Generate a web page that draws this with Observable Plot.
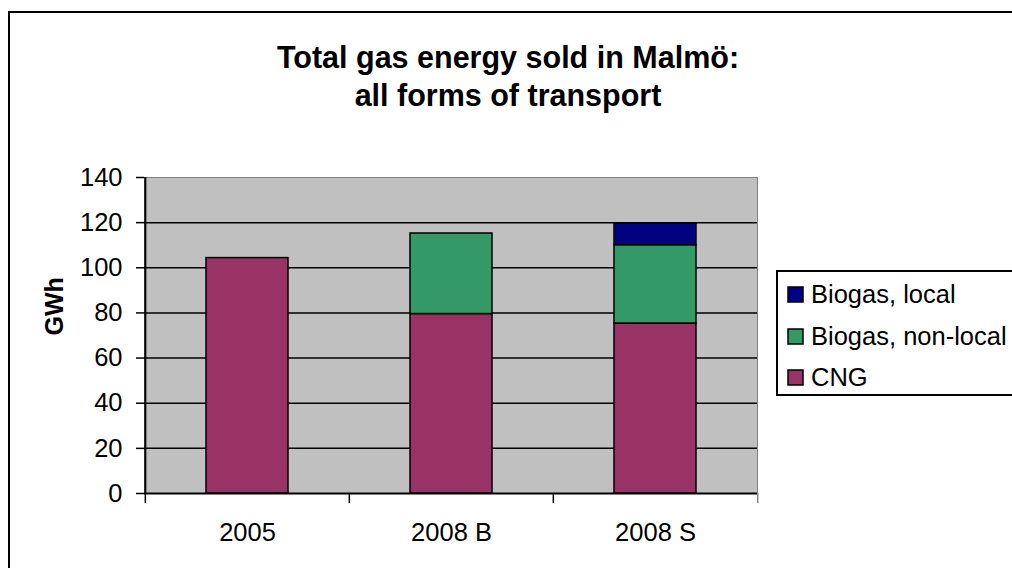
<!DOCTYPE html>
<html>
<head>
<meta charset="utf-8">
<script src="https://cdn.jsdelivr.net/npm/d3@7"></script>
<script src="https://cdn.jsdelivr.net/npm/@observablehq/plot@0.6"></script>
<style>
  html, body { margin: 0; padding: 0; background: #fff; width: 1012px; height: 568px; overflow: hidden; position: relative; }
  body { font-family: "Liberation Sans", Arial, sans-serif; color: #000; }
  #frame { position: absolute; left: 8px; top: 11px; width: 1100px; height: 700px; border: 2px solid #000; box-sizing: border-box; }
  #title { position: absolute; left: 0; top: 38px; width: 1016px; text-align: center; font-size: 30.5px; font-weight: bold; line-height: 38px; }
  #chart { position: absolute; left: 0; top: 150px; }
  #legend { position: absolute; left: 776px; top: 270px; width: 260px; height: 126px; border: 2px solid #000; box-sizing: border-box; padding: 2px 0 0 10px; background: #fff; }
  #legend .lg-swatch { height: 41.5px; padding-bottom: 0; display: flex; align-items: center; }
  #legend .lg-swatch svg { margin-right: 8px; overflow: visible; }
  #legend .lg-swatch svg rect { stroke: #000; stroke-width: 1.5px; }
  #legend .lg-swatches { margin: 0; }
</style>
</head>
<body>
<div id="frame"></div>
<div id="title">Total gas energy sold in Malmö:<br>all forms of transport</div>
<div id="chart"></div>
<div id="legend"></div>
<script>
const categories = ["2005", "2008 B", "2008 S"];
const cng = [104.3, 79.5, 75.3];
const biogasNonLocal = [0, 35.7, 34.7];
const biogasLocal = [0, 0, 9.6];
const seriesNames = ["Biogas, local", "Biogas, non-local", "CNG"];
const seriesColors = ["#000080", "#339966", "#993366"];
const yTicks = [0, 20, 40, 60, 80, 100, 120, 140];
const gridValues = [20, 40, 60, 80, 100, 120];
const yLabel = "GWh";

// stacking order: CNG at bottom, then non-local, then local
const rows = [];
categories.forEach((c, i) => {
  [["CNG", cng[i]], ["Biogas, non-local", biogasNonLocal[i]], ["Biogas, local", biogasLocal[i]]]
    .forEach(([s, v]) => { if (v > 0) rows.push({category: c, series: s, value: v}); });
});

const W = 1012, H = 418;
const mL = 144, mR = 255, mT = 27, mB = 75;
const paddingInner = 0.6, paddingOuter = 0.3;
const step = (W - mL - mR) / (categories.length - paddingInner + 2 * paddingOuter);

const tickShape = { draw(context, l) { context.moveTo(0, 0); context.lineTo(0, -l); } };

const chart = Plot.plot({
  width: W, height: H,
  marginLeft: mL, marginRight: mR, marginTop: mT, marginBottom: mB,
  style: { fontFamily: "'Liberation Sans', Arial, sans-serif", fontSize: "25.5px", color: "#000", background: "transparent", overflow: "visible" },
  x: { domain: categories, paddingInner, paddingOuter },
  y: { domain: [0, 140] },
  color: { domain: seriesNames, range: seriesColors },
  marks: [
    Plot.frame({ fill: "#c0c0c0", stroke: "#808080", strokeWidth: 1 }),
    Plot.ruleY(gridValues, { stroke: "#000", strokeWidth: 1.5 }),
    Plot.barY(rows, { x: "category", y: "value", fill: "series", stroke: "#000", strokeWidth: 1.5, order: null }),
    Plot.ruleY([0], { stroke: "#000", strokeWidth: 2 }),
    Plot.ruleX([categories[0]], { dx: -step / 2, stroke: "#000", strokeWidth: 2 }),
    Plot.vector(categories, { x: d => d, y: () => 0, dx: -step / 2, length: 9, rotate: 180, anchor: "start", shape: tickShape, stroke: "#000", strokeWidth: 1.5 }),
    Plot.vector([categories[categories.length - 1]], { x: d => d, y: () => 0, dx: step / 2, length: 9, rotate: 180, anchor: "start", shape: tickShape, stroke: "#808080", strokeWidth: 1.5 }),
    Plot.axisY({ ticks: yTicks, tickSize: 8, tickPadding: 14, strokeWidth: 1.5, label: null, fill: "#000" }),
    Plot.axisX({ tickSize: 0, tickPadding: 29, label: null, fill: "#000" }),
    Plot.text([yLabel], { frameAnchor: "left", rotate: -90, dx: -90, fontWeight: "bold", fontSize: 25, fill: "#000", text: d => d })
  ]
});
document.getElementById("chart").appendChild(chart);

const legend = Plot.legend({
  color: { domain: seriesNames, range: seriesColors },
  legend: "swatches",
  columns: 1,
  swatchSize: 15,
  className: "lg",
  style: { fontFamily: "'Liberation Sans', Arial, sans-serif", fontSize: "25.5px", color: "#000" }
});
document.getElementById("legend").appendChild(legend);
</script>
</body>
</html>
